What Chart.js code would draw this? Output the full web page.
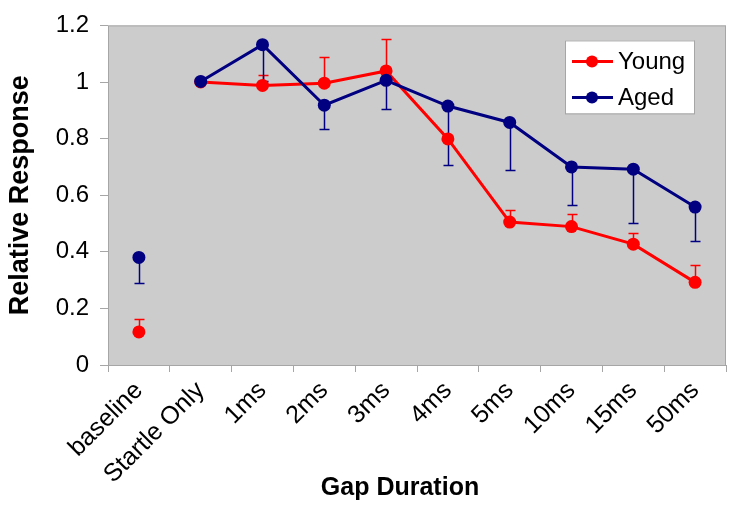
<!DOCTYPE html>
<html>
<head>
<meta charset="utf-8">
<script src="https://cdn.jsdelivr.net/npm/chart.js@4.4.0/dist/chart.umd.min.js"></script>
<style>
  html, body { margin: 0; padding: 0; background: #fff; }
  #wrap { width: 743px; height: 508px; }
</style>
</head>
<body>
<div id="wrap"><canvas id="gap-chart"></canvas></div>
<script>
const categories = ["baseline", "Startle Only", "1ms", "2ms", "3ms", "4ms", "5ms", "10ms", "15ms", "50ms"];

const youngValues = [0.117, 1.0, 0.988, 0.996, 1.039, 0.799, 0.505, 0.489, 0.427, 0.292];
const youngErrors = [0.044, null, 0.035, 0.092, 0.113, null, 0.041, 0.045, 0.039, 0.062]; // upward

const agedValues = [0.380, 1.002, 1.132, 0.918, 1.006, 0.915, 0.857, 0.700, 0.692, 0.558];
const agedErrors = [0.089, null, 0.13, 0.085, 0.103, 0.207, 0.169, 0.136, 0.189, 0.119]; // downward

const yMin = 0;
const yMax = 1.2;
const yStep = 0.2;

const xTitle = "Gap Duration";
const yTitle = "Relative Response";

const FONT = "'Liberation Sans', Arial, sans-serif";

// gray plot area with thin border
const plotBackground = {
  id: "plotBackground",
  beforeDraw(chart) {
    const { ctx, chartArea: a } = chart;
    ctx.save();
    ctx.fillStyle = "#cccccc";
    ctx.fillRect(a.left, a.top, a.width, a.height);
    ctx.strokeStyle = "#a6a6a6";
    ctx.lineWidth = 1;
    ctx.strokeRect(a.left + 0.5, a.top + 0.5, a.width - 1, a.height);
    ctx.restore();
  },
};

// one-sided error bars, drawn under the lines
const errorBars = {
  id: "errorBars",
  beforeDatasetsDraw(chart) {
    const { ctx } = chart;
    const y = chart.scales.y;
    chart.data.datasets.forEach((ds, i) => {
      if (!ds.errors) return;
      const meta = chart.getDatasetMeta(i);
      ctx.save();
      ctx.strokeStyle = ds.borderColor;
      ctx.lineWidth = 1.5;
      meta.data.forEach((pt, j) => {
        const e = ds.errors[j];
        if (e == null) return;
        const end = Math.round(y.getPixelForValue(ds.data[j] + ds.errorDir * e)) + 0.5;
        const x = Math.round(pt.x) + 0.5;
        ctx.beginPath();
        ctx.moveTo(x, pt.y);
        ctx.lineTo(x, end);
        ctx.moveTo(x - 5, end);
        ctx.lineTo(x + 5, end);
        ctx.stroke();
      });
      ctx.restore();
    });
  },
};

// boxed legend inside the plot (top right) and the x axis title
const boxLegend = {
  id: "boxLegend",
  afterDraw(chart) {
    const { ctx, chartArea: a } = chart;
    const left = a.right - 161;
    const top = a.top + 15;
    ctx.save();
    ctx.fillStyle = "#ffffff";
    ctx.fillRect(left, top, 129, 73);
    ctx.strokeStyle = "#a6a6a6";
    ctx.lineWidth = 1;
    ctx.strokeRect(left + 0.5, top + 0.5, 129, 73);
    chart.data.datasets.filter((ds) => ds.label).forEach((ds, i) => {
      const cy = top + 21 + i * 36;
      ctx.strokeStyle = ds.borderColor;
      ctx.lineWidth = 3;
      ctx.beginPath();
      ctx.moveTo(left + 7, cy);
      ctx.lineTo(left + 48, cy);
      ctx.stroke();
      ctx.fillStyle = ds.borderColor;
      ctx.beginPath();
      ctx.arc(left + 27, cy, 6, 0, Math.PI * 2);
      ctx.fill();
      ctx.fillStyle = "#000";
      ctx.font = "24px " + FONT;
      ctx.textBaseline = "middle";
      ctx.fillText(ds.label, left + 53, cy + 1);
    });

    ctx.fillStyle = "#000";
    ctx.font = "bold 25px " + FONT;
    ctx.textAlign = "center";
    ctx.textBaseline = "middle";
    ctx.fillText(xTitle, (a.left + a.right) / 2 - 17, chart.height - 20);
    ctx.restore();
  },
};

// baseline point stands alone: hide the first segment
const skipFirst = (ctx) => (ctx.p0DataIndex === 0 ? "rgba(0,0,0,0)" : undefined);

const series = (label, values, errors, dir, color, order) => ({
  label,
  data: values,
  errors,
  errorDir: dir,
  borderColor: color,
  backgroundColor: color,
  borderWidth: 3,
  pointRadius: 6.5,
  pointBorderWidth: 0,
  pointBackgroundColor: color,
  tension: 0,
  order,
  segment: { borderColor: skipFirst },
});

new Chart(document.getElementById("gap-chart"), {
  type: "line",
  data: {
    labels: categories,
    datasets: [
      series("Young", youngValues, youngErrors, 1, "#ff0000", 1),
      series("Aged", agedValues, agedErrors, -1, "#000080", 0),
    ],
  },
  options: {
    responsive: true,
    maintainAspectRatio: false,
    animation: false,
    layout: { padding: { top: 23, right: 17, left: 0, bottom: 0 } },
    plugins: {
      legend: { display: false },
      tooltip: { enabled: false },
    },
    scales: {
      x: {
        offset: true,
        grid: { offset: true, drawOnChartArea: false, tickLength: 7, color: "#a6a6a6" },
        border: { display: false },
        ticks: {
          autoSkip: false,
          minRotation: 45,
          maxRotation: 45,
          padding: 4,
          color: "#000",
          font: { family: FONT, size: 25 },
        },
        afterFit: (s) => { s.height = 143; },
      },
      y: {
        min: yMin,
        max: yMax,
        grid: { drawOnChartArea: false, tickLength: 8, color: "#a6a6a6" },
        border: { display: false },
        ticks: {
          stepSize: yStep,
          padding: 11,
          color: "#000",
          font: { family: FONT, size: 24 },
          callback: (v) => String(Number(v.toFixed(1))),
        },
        title: {
          display: true,
          text: yTitle,
          color: "#000",
          font: { family: FONT, size: 27, weight: "bold" },
          padding: { top: 4, bottom: 0 },
        },
        afterFit: (s) => { s.width = 108; },
      },
    },
  },
  plugins: [plotBackground, errorBars, boxLegend],
});
</script>
</body>
</html>
